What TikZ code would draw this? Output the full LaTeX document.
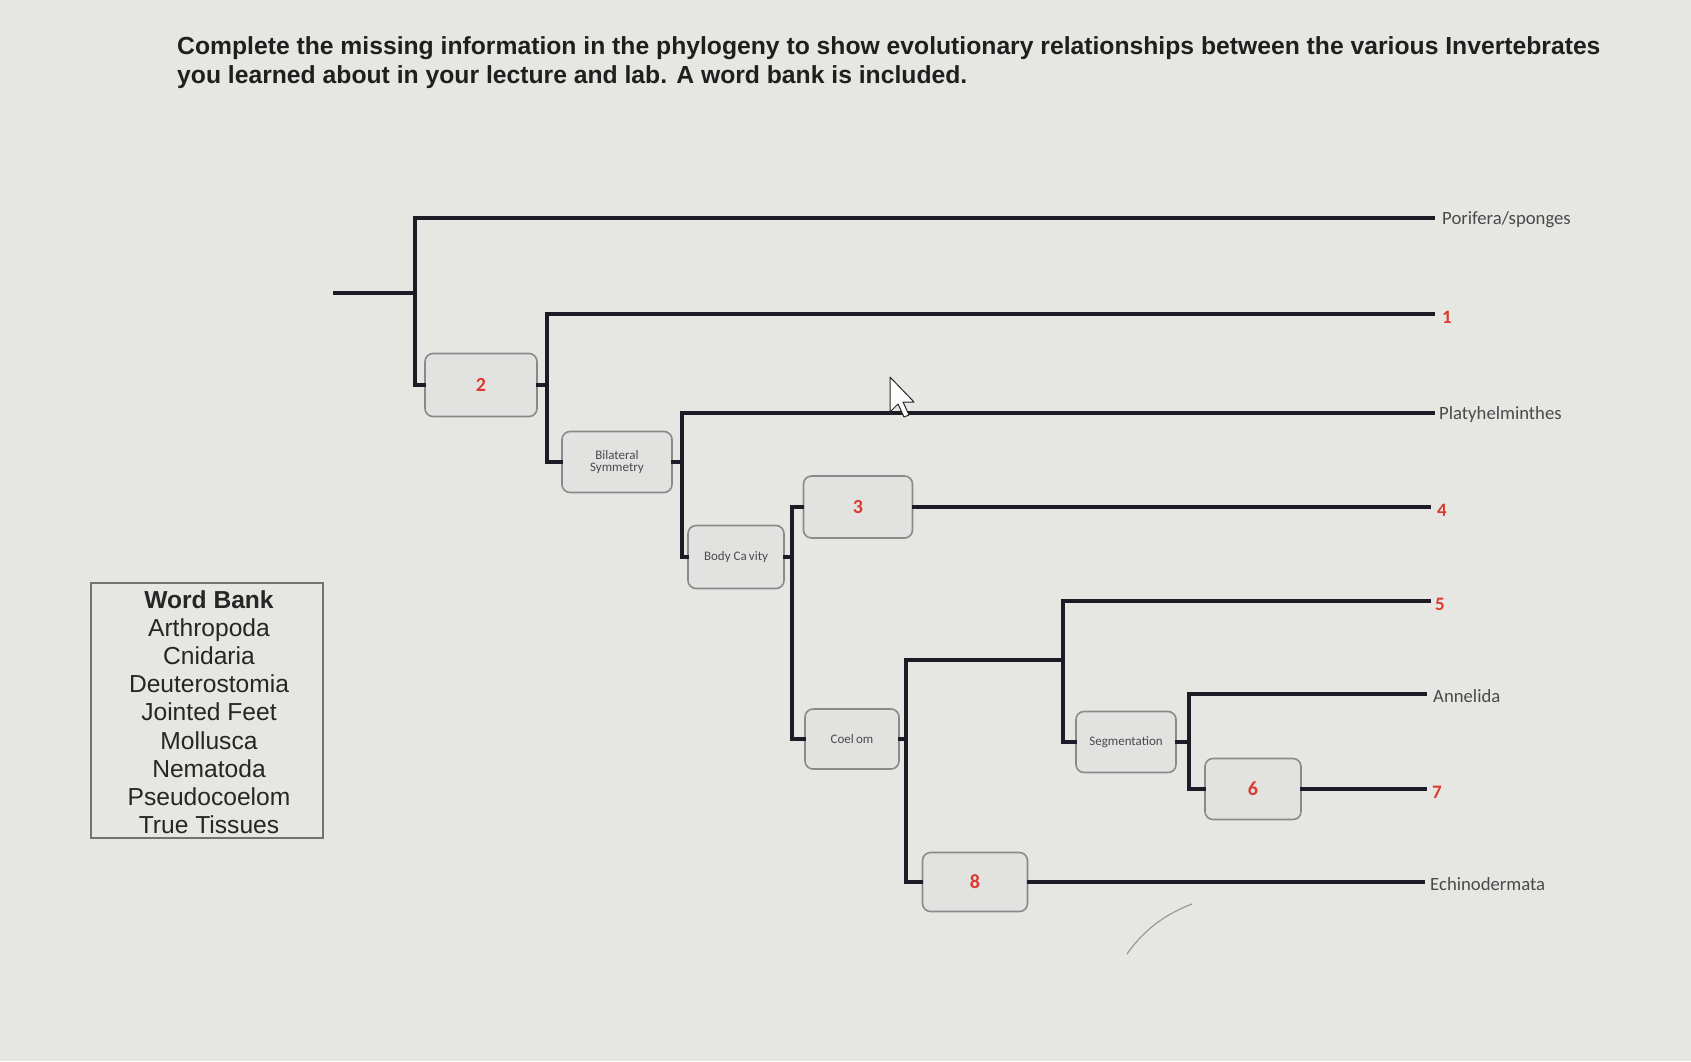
\documentclass[tikz,border=0pt]{standalone}
\usepackage{fontspec}
\setmainfont{Liberation Sans}
\newfontfamily\carl{Carlito}
\definecolor{bgc}{HTML}{E6E6E3}
\definecolor{boxfill}{HTML}{E2E2E0}
\definecolor{boxline}{HTML}{8A8A8C}
\definecolor{treec}{HTML}{1E1B26}
\definecolor{numred}{HTML}{DB3B2E}
\definecolor{labgray}{HTML}{4A4A4C}
\tikzset{
  trait/.style={draw=boxline, line width=1.6pt, fill=boxfill, rounded corners=8pt, inner sep=0pt, align=center},
  traittxt/.style={font=\carl\fontsize{13}{14.5}\selectfont, text=labgray},
  numtxt/.style={font=\carl\bfseries\fontsize{20}{21}\selectfont, text=numred},
  branch/.style={draw=treec, line width=3.2pt, line join=miter, line cap=rect},
  tiplab/.style={anchor=west, font=\carl\fontsize{18.7}{20}\selectfont, text=labgray, inner sep=0pt, yshift=-2pt},
  tipnum/.style={anchor=west, font=\carl\bfseries\fontsize{19}{20}\selectfont, text=numred, inner sep=0pt, yshift=-3pt},
  titletxt/.style={anchor=base west, inner sep=0pt, font=\bfseries\fontsize{24.7}{28}\selectfont, text=black!88},
}
\begin{document}
\begin{tikzpicture}[x=1pt,y=-1pt]
\fill[bgc] (0,0) rectangle (1691,1061);
\useasboundingbox (0,0) rectangle (1691,1061);

% title
\node[titletxt] (title1) at (177,54)
  {Complete the missing information in the phylogeny to show evolutionary relationships between the various Invertebrates};
\node[titletxt] (title2) at (177,83)
  {you learned about in your lecture and lab. A word bank is included.};

% trait boxes
\node[trait, minimum width=112pt, minimum height=63pt, numtxt] (b2) at (481,385) {2};
\node[trait, minimum width=110pt, minimum height=61pt, traittxt] (bs) at (617,462) {Bilateral\\[-2pt]Symmetry};
\node[trait, minimum width=96pt, minimum height=63pt, traittxt] (bc) at (736,557) {Body Ca\,vity};
\node[trait, minimum width=109pt, minimum height=62pt, numtxt] (b3) at (858,507) {3};
\node[trait, minimum width=94pt, minimum height=60pt, traittxt] (co) at (852,739) {Coel\,om};
\node[trait, minimum width=100pt, minimum height=61pt, traittxt] (seg) at (1126,742) {Segmentation};
\node[trait, minimum width=96pt, minimum height=61pt, numtxt] (b6) at (1253,789) {6};
\node[trait, minimum width=105pt, minimum height=59pt, numtxt] (b8) at (975,882) {8};

% junction and tip coordinates
\coordinate (root) at (335,293);
\coordinate (n0) at (415,293);
\coordinate (n1) at (547,385);
\coordinate (n2) at (682,462);
\coordinate (n3) at (792,557);
\coordinate (n4) at (906,739);
\coordinate (n5) at (1063,660);
\coordinate (n6) at (1189,742);
\coordinate (tP) at (1433,218);
\coordinate (t1) at (1433,314);
\coordinate (tPl) at (1433,413);
\coordinate (t4) at (1429,507);
\coordinate (t5) at (1429,601);
\coordinate (tA) at (1425,694);
\coordinate (t7) at (1425,789);
\coordinate (tE) at (1423,882);

% branches
\draw[branch] (root) -- (n0);
\draw[branch] (tP) -| (n0) |- (b2.west);
\draw[branch] (b2.east) -- (n1);
\draw[branch] (t1) -| (n1) |- (bs.west);
\draw[branch] (bs.east) -- (n2);
\draw[branch] (tPl) -| (n2) |- (bc.west);
\draw[branch] (bc.east) -- (n3);
\draw[branch] (b3.west) -| (n3) |- (co.west);
\draw[branch] (b3.east) -- (t4);
\draw[branch] (co.east) -- (n4);
\draw[branch] (n5) -| (n4) |- (b8.west);
\draw[branch] (b8.east) -- (tE);
\draw[branch] (t5) -| (n5) |- (seg.west);
\draw[branch] (seg.east) -- (n6);
\draw[branch] (tA) -| (n6) |- (b6.west);
\draw[branch] (b6.east) -- (t7);

% tip labels
\node[tiplab] (lP) at ([xshift=9pt]tP) {Porifera/sponges};
\node[tipnum] (l1) at ([xshift=9pt]t1) {1};
\node[tiplab] (lPl) at ([xshift=6pt]tPl) {Platyhelminthes};
\node[tipnum] (l4) at ([xshift=8pt]t4) {4};
\node[tipnum] (l5) at ([xshift=6pt]t5) {5};
\node[tiplab] (lA) at ([xshift=8pt]tA) {Annelida};
\node[tipnum] (l7) at ([xshift=7pt]t7) {7};
\node[tiplab] (lE) at ([xshift=7pt]tE) {Echinodermata};

% word bank
\draw[draw=black!55, line width=1.3pt] (91,583) rectangle (323,838);
\node[align=center, inner sep=0pt, text=black!85, font=\fontsize{24.6}{28.2}\selectfont] (wb) at (209,712)
  {\textbf{Word Bank}\\Arthropoda\\Cnidaria\\Deuterostomia\\Jointed Feet\\Mollusca\\Nematoda\\Pseudocoelom\\True Tissues};

% mouse cursor
\draw[black!85, fill=white!92!bgc, line width=1pt, line join=round]
  (890,377) -- (890,412) -- (898,404) -- (904,417) -- (909,415) -- (903,402) -- (914,402) -- cycle;

% faint pen stroke
\draw[black!40, line width=1.2pt, line cap=round] (1127,954) .. controls (1145,928) and (1168,913) .. (1192,904);
\end{tikzpicture}
\end{document}
